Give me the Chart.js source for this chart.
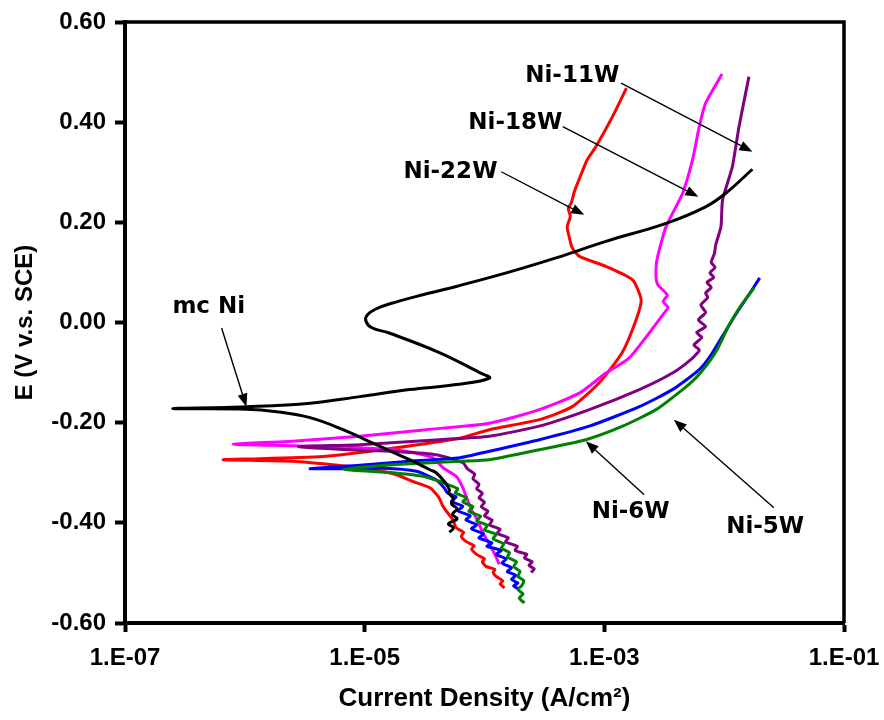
<!DOCTYPE html>
<html>
<head>
<meta charset="utf-8">
<script src="https://cdn.jsdelivr.net/npm/chart.js@4.4.0/dist/chart.umd.min.js"></script>
<style>
html,body{margin:0;padding:0;background:#fff;}
</style>
</head>
<body>
<canvas id="chart" width="884" height="720"></canvas>
<script>
// axis ticks
const xTickValues = [1e-7, 1e-5, 1e-3, 1e-1];
const xTickLabels = ["1.E-07", "1.E-05", "1.E-03", "1.E-01"];
const yTickValues = [-0.6, -0.4, -0.2, 0, 0.2, 0.4, 0.6];
const yTickLabels = ["-0.60", "-0.40", "-0.20", "0.00", "0.20", "0.40", "0.60"];

// curves: current density (A/cm2) and potential (V vs SCE), cathodic end -> Ecorr -> anodic end
const mcNiI = [5.1e-5, 5.5e-5, 5.0e-5, 5.9e-5, 5.4e-5, 5.9e-5, 5.3e-5, 5.5e-5, 5.0e-5, 5.1e-5, 4.6e-5, 3.95e-5, 3.5e-5, 2.37e-5, 1.25e-5, 6.6e-6, 3.5e-6, 1.84e-6, 1.03e-6, 2.5e-7,
  1.03e-6, 3.5e-6, 9.1e-6, 2.37e-5, 5.8e-5, 1.1e-4, 9.1e-5, 4.2e-5, 1.6e-5, 1.14e-5, 1.02e-5, 1.06e-5, 1.24e-5, 1.6e-5, 3.0e-5, 5.8e-5, 1.52e-4, 3.95e-4, 1.03e-3, 3.27e-3, 7.0e-3, 1.03e-2, 1.72e-2];
const mcNiE = [-0.419, -0.410, -0.402, -0.392, -0.383, -0.372, -0.362, -0.352, -0.340, -0.334, -0.317, -0.300, -0.294, -0.274, -0.244, -0.214, -0.190, -0.178, -0.173, -0.172,
  -0.168, -0.161, -0.148, -0.134, -0.124, -0.111, -0.100, -0.060, -0.021, -0.010, 0.004, 0.016, 0.027, 0.037, 0.055, 0.072, 0.099, 0.129, 0.162, 0.198, 0.231, 0.258, 0.306];

const ni22wI = [1.47e-4, 1.35e-4, 1.42e-4, 1.25e-4, 1.18e-4, 1.22e-4, 1.03e-4, 9.6e-5, 1.0e-4, 8.6e-5, 7.8e-5, 8.2e-5, 7.0e-5, 6.4e-5, 6.7e-5, 5.8e-5, 5.45e-5, 5.0e-5, 4.5e-5, 4.3e-5, 4.1e-5, 3.5e-5, 2.5e-5, 1.84e-5, 1.17e-5, 5.4e-6, 2.5e-6, 6.6e-7,
  1.33e-6, 4.8e-6, 1.71e-5, 6.2e-5, 1.1e-4, 2.87e-4, 5.4e-4, 9.1e-4, 1.41e-3, 1.84e-3, 2.03e-3, 1.72e-3, 1.03e-3, 6.2e-4, 5.4e-4, 5.1e-4, 4.9e-4, 5.2e-4, 5.0e-4, 5.3e-4, 5.6e-4, 6.0e-4, 7.2e-4, 8.5e-4, 1.17e-3, 1.53e-3];
const ni22wE = [-0.530, -0.522, -0.516, -0.507, -0.499, -0.493, -0.487, -0.478, -0.472, -0.463, -0.452, -0.446, -0.437, -0.427, -0.419, -0.410, -0.394, -0.382, -0.367, -0.356, -0.347, -0.330, -0.317, -0.304, -0.294, -0.284, -0.277, -0.274,
  -0.272, -0.267, -0.251, -0.231, -0.214, -0.194, -0.168, -0.120, -0.060, 0.005, 0.045, 0.085, 0.112, 0.132, 0.149, 0.170, 0.191, 0.212, 0.228, 0.239, 0.260, 0.279, 0.325, 0.351, 0.411, 0.468];

const ni18wI = [1.33e-4, 1.22e-4, 1.1e-4, 9.6e-5, 8.7e-5, 7.8e-5, 7.2e-5, 6.6e-5, 5.8e-5, 4.5e-5, 3.7e-5, 2.2e-5, 9.1e-6, 2.5e-6, 8.0e-7,
  2.5e-6, 9.1e-6, 3.27e-5, 1.1e-4, 2.87e-4, 6.2e-4, 1.03e-3, 1.61e-3, 2.37e-3, 3.16e-3, 3.4e-3, 3.1e-3, 3.35e-3, 2.8e-3, 2.7e-3, 2.75e-3, 3.27e-3, 4.5e-3, 5.45e-3, 6.2e-3, 7.0e-3, 9.6e-3];
const ni18wE = [-0.483, -0.463, -0.443, -0.418, -0.394, -0.374, -0.354, -0.330, -0.307, -0.290, -0.270, -0.257, -0.250, -0.246, -0.243,
  -0.237, -0.227, -0.214, -0.201, -0.174, -0.141, -0.101, -0.071, -0.021, 0.019, 0.030, 0.042, 0.055, 0.075, 0.090, 0.125, 0.191, 0.258, 0.325, 0.391, 0.438, 0.496];

const ni11wI = [2.45e-4, 2.60e-4, 2.35e-4, 2.50e-4, 2.15e-4, 2.25e-4, 1.80e-4, 1.88e-4, 1.50e-4, 1.58e-4, 1.28e-4, 1.35e-4, 1.10e-4, 1.16e-4, 1.00e-4, 1.07e-4, 9.4e-5, 1.00e-4, 9.0e-5, 9.6e-5, 8.6e-5, 9.0e-5, 8.0e-5, 8.3e-5, 7.2e-5, 6.6e-5, 3.95e-5, 1.96e-5, 9.1e-6, 2.78e-6,
  9.1e-6, 4.2e-5, 1.1e-4, 2.87e-4, 7.5e-4, 1.96e-3, 3.7e-3, 5.45e-3, 6.2e-3, 5.6e-3, 6.5e-3, 5.9e-3, 7.0e-3, 6.1e-3, 7.0e-3, 6.4e-3, 7.3e-3, 7.0e-3, 7.8e-3, 7.2e-3, 8.2e-3, 7.6e-3, 8.4e-3, 7.8e-3, 8.3e-3, 8.5e-3, 9.4e-3, 9.7e-3, 1.17e-2, 1.33e-2, 1.61e-2];
const ni11wE = [-0.499, -0.492, -0.485, -0.478, -0.470, -0.463, -0.455, -0.447, -0.438, -0.430, -0.421, -0.413, -0.404, -0.395, -0.386, -0.377, -0.368, -0.359, -0.350, -0.341, -0.332, -0.323, -0.312, -0.303, -0.292, -0.280, -0.264, -0.258, -0.255, -0.248,
  -0.244, -0.234, -0.227, -0.207, -0.174, -0.134, -0.101, -0.071, -0.055, -0.045, -0.030, -0.020, -0.008, 0.005, 0.020, 0.035, 0.050, 0.059, 0.070, 0.080, 0.090, 0.099, 0.110, 0.120, 0.138, 0.155, 0.191, 0.245, 0.311, 0.391, 0.491];

const ni6wI = [1.96e-4, 1.75e-4, 1.90e-4, 1.68e-4, 1.82e-4, 1.55e-4, 1.68e-4, 1.40e-4, 1.52e-4, 1.25e-4, 1.38e-4, 1.05e-4, 1.15e-4, 9.0e-5, 9.8e-5, 7.8e-5, 8.6e-5, 7.0e-5, 7.6e-5, 6.0e-5, 6.6e-5, 5.3e-5, 5.8e-5, 4.9e-5, 4.6e-5, 3.95e-5, 2.7e-5, 1.42e-5, 6.2e-6, 3.5e-6,
  9.1e-6, 2.37e-5, 6.2e-5, 1.1e-4, 2.87e-4, 7.5e-4, 1.96e-3, 3.7e-3, 6.2e-3, 7.8e-3, 9.8e-3, 1.24e-2, 1.56e-2, 1.98e-2];
const ni6wE = [-0.533, -0.526, -0.520, -0.513, -0.505, -0.497, -0.490, -0.480, -0.472, -0.463, -0.455, -0.447, -0.440, -0.430, -0.422, -0.412, -0.404, -0.394, -0.386, -0.376, -0.367, -0.357, -0.348, -0.340, -0.330, -0.314, -0.297, -0.291, -0.292, -0.292,
  -0.285, -0.277, -0.270, -0.257, -0.234, -0.207, -0.168, -0.134, -0.094, -0.064, -0.025, 0.015, 0.051, 0.089];

const ni5wI = [2.15e-4, 1.95e-4, 2.10e-4, 1.90e-4, 2.05e-4, 2.12e-4, 1.90e-4, 1.98e-4, 1.75e-4, 1.85e-4, 1.55e-4, 1.62e-4, 1.38e-4, 1.45e-4, 1.18e-4, 1.25e-4, 1.00e-4, 1.06e-4, 8.6e-5, 9.3e-5, 7.4e-5, 8.0e-5, 6.6e-5, 7.1e-5, 5.7e-5, 6.0e-5, 5.0e-5, 4.2e-5, 3.06e-5, 1.72e-5, 6.6e-6,
  1.72e-5, 6.2e-5, 1.1e-4, 2.87e-4, 7.0e-4, 1.42e-3, 2.7e-3, 4.5e-3, 5.84e-3, 7.2e-3, 8.74e-3, 1.10e-2, 1.39e-2, 1.78e-2];
const ni5wE = [-0.560, -0.550, -0.542, -0.533, -0.525, -0.515, -0.507, -0.497, -0.487, -0.478, -0.468, -0.460, -0.450, -0.442, -0.432, -0.423, -0.414, -0.405, -0.396, -0.387, -0.377, -0.368, -0.358, -0.350, -0.340, -0.332, -0.324, -0.317, -0.307, -0.300, -0.293,
  -0.284, -0.277, -0.274, -0.254, -0.234, -0.207, -0.174, -0.134, -0.110, -0.084, -0.054, -0.005, 0.035, 0.069];

// annotation labels with arrows (data coordinates)
const noteTexts = ["Ni-11W", "Ni-18W", "Ni-22W", "mc Ni", "Ni-6W", "Ni-5W"];
const noteI = [5.4e-4, 1.81e-4, 5.2e-5, 5.0e-7, 1.66e-3, 2.2e-2];
const noteE = [0.492, 0.399, 0.301, 0.030, -0.379, -0.409];
const arrowFromI = [1.38e-3, 4.5e-4, 1.38e-4, 6.4e-7, 2.15e-3, 2.6e-2];
const arrowFromE = [0.478, 0.391, 0.301, -0.011, -0.344, -0.370];
const arrowToI = [1.72e-2, 6.1e-3, 6.8e-4, 1.03e-6, 7.0e-4, 3.8e-3];
const arrowToE = [0.341, 0.251, 0.215, -0.168, -0.237, -0.194];

const toPts = (xs, ys) => xs.map((x, i) => ({x: x, y: ys[i]}));

const curve = (label, xs, ys, color, order, tension) => ({
  label: label,
  data: toPts(xs, ys),
  showLine: true,
  borderColor: color,
  backgroundColor: color,
  borderWidth: 3,
  pointRadius: 0,
  tension: tension,
  order: order
});

const datasets = [
  curve("mc Ni", mcNiI, mcNiE, "#000000", 0, 0.4),
  curve("Ni-5W", ni5wI, ni5wE, "#008000", 1, 0.2),
  curve("Ni-6W", ni6wI, ni6wE, "#0000FF", 2, 0.2),
  curve("Ni-11W", ni11wI, ni11wE, "#800080", 3, 0.2),
  curve("Ni-18W", ni18wI, ni18wE, "#FF00FF", 4, 0.2),
  curve("Ni-22W", ni22wI, ni22wE, "#FF0000", 5, 0.2)
];

const frameAndNotes = {
  id: "frameAndNotes",
  afterDraw(chart) {
    const {ctx, chartArea, scales} = chart;
    ctx.save();
    // top and right frame lines
    ctx.strokeStyle = "#000";
    ctx.lineWidth = 3.5;
    ctx.beginPath();
    ctx.moveTo(chartArea.left, chartArea.top);
    ctx.lineTo(chartArea.right, chartArea.top);
    ctx.lineTo(chartArea.right, chartArea.bottom);
    ctx.stroke();

    // arrows
    ctx.lineWidth = 1.4;
    ctx.fillStyle = "#000";
    for (let i = 0; i < noteTexts.length; i++) {
      const x0 = scales.x.getPixelForValue(arrowFromI[i]);
      const y0 = scales.y.getPixelForValue(arrowFromE[i]);
      const x1 = scales.x.getPixelForValue(arrowToI[i]);
      const y1 = scales.y.getPixelForValue(arrowToE[i]);
      const a = Math.atan2(y1 - y0, x1 - x0);
      const len = 13, half = 5;
      const bx = x1 - len * Math.cos(a), by = y1 - len * Math.sin(a);
      ctx.beginPath();
      ctx.moveTo(x0, y0);
      ctx.lineTo(bx, by);
      ctx.stroke();
      ctx.beginPath();
      ctx.moveTo(x1, y1);
      ctx.lineTo(bx + half * Math.sin(a), by - half * Math.cos(a));
      ctx.lineTo(bx - half * Math.sin(a), by + half * Math.cos(a));
      ctx.closePath();
      ctx.fill();
    }

    // labels
    ctx.font = "bold 23px 'DejaVu Sans', Verdana, sans-serif";
    ctx.textAlign = "center";
    ctx.textBaseline = "middle";
    for (let i = 0; i < noteTexts.length; i++) {
      ctx.fillText(noteTexts[i], scales.x.getPixelForValue(noteI[i]), scales.y.getPixelForValue(noteE[i]));
    }
    ctx.restore();
  }
};

const axisFont = {family: "'Liberation Sans', Arial, sans-serif", size: 24, weight: "bold"};

new Chart(document.getElementById("chart").getContext("2d"), {
  type: "scatter",
  data: {datasets: datasets},
  options: {
    responsive: false,
    animation: false,
    layout: {padding: {top: 22, right: 40, left: 0, bottom: 0}},
    plugins: {legend: {display: false}, tooltip: {enabled: false}},
    scales: {
      x: {
        type: "logarithmic",
        min: 1e-7,
        max: 1e-1,
        afterBuildTicks: (s) => { s.ticks = xTickValues.map(v => ({value: v})); },
        afterFit: (s) => { s.height = 97; s.paddingLeft = 0; s.paddingRight = 0; },
        ticks: {
          callback: (v, i) => xTickLabels[i],
          color: "#000",
          font: axisFont,
          padding: 12,
          autoSkip: false,
          maxRotation: 0
        },
        grid: {drawOnChartArea: false, drawTicks: true, tickLength: 9, tickWidth: 4, tickColor: "#000"},
        border: {display: true, color: "#000", width: 4},
        title: {
          display: true,
          text: "Current Density (A/cm²)",
          color: "#000",
          font: {family: "'Liberation Sans', Arial, sans-serif", size: 26, weight: "bold"},
          padding: {top: 0, bottom: 6}
        }
      },
      y: {
        type: "linear",
        min: -0.6,
        max: 0.6,
        afterBuildTicks: (s) => { s.ticks = yTickValues.map(v => ({value: v})); },
        afterFit: (s) => { s.width = 125; s.paddingTop = 0; s.paddingBottom = 0; },
        ticks: {
          callback: (v, i) => yTickLabels[i],
          color: "#000",
          font: axisFont,
          padding: 9
        },
        grid: {drawOnChartArea: false, drawTicks: true, tickLength: 10, tickWidth: 4, tickColor: "#000"},
        border: {display: true, color: "#000", width: 4},
        title: {
          display: true,
          text: "E (V v.s. SCE)",
          color: "#000",
          font: {family: "'Liberation Sans', Arial, sans-serif", size: 24, weight: "bold"},
          padding: {top: 11, bottom: 0}
        }
      }
    }
  },
  plugins: [frameAndNotes]
});
</script>
</body>
</html>
